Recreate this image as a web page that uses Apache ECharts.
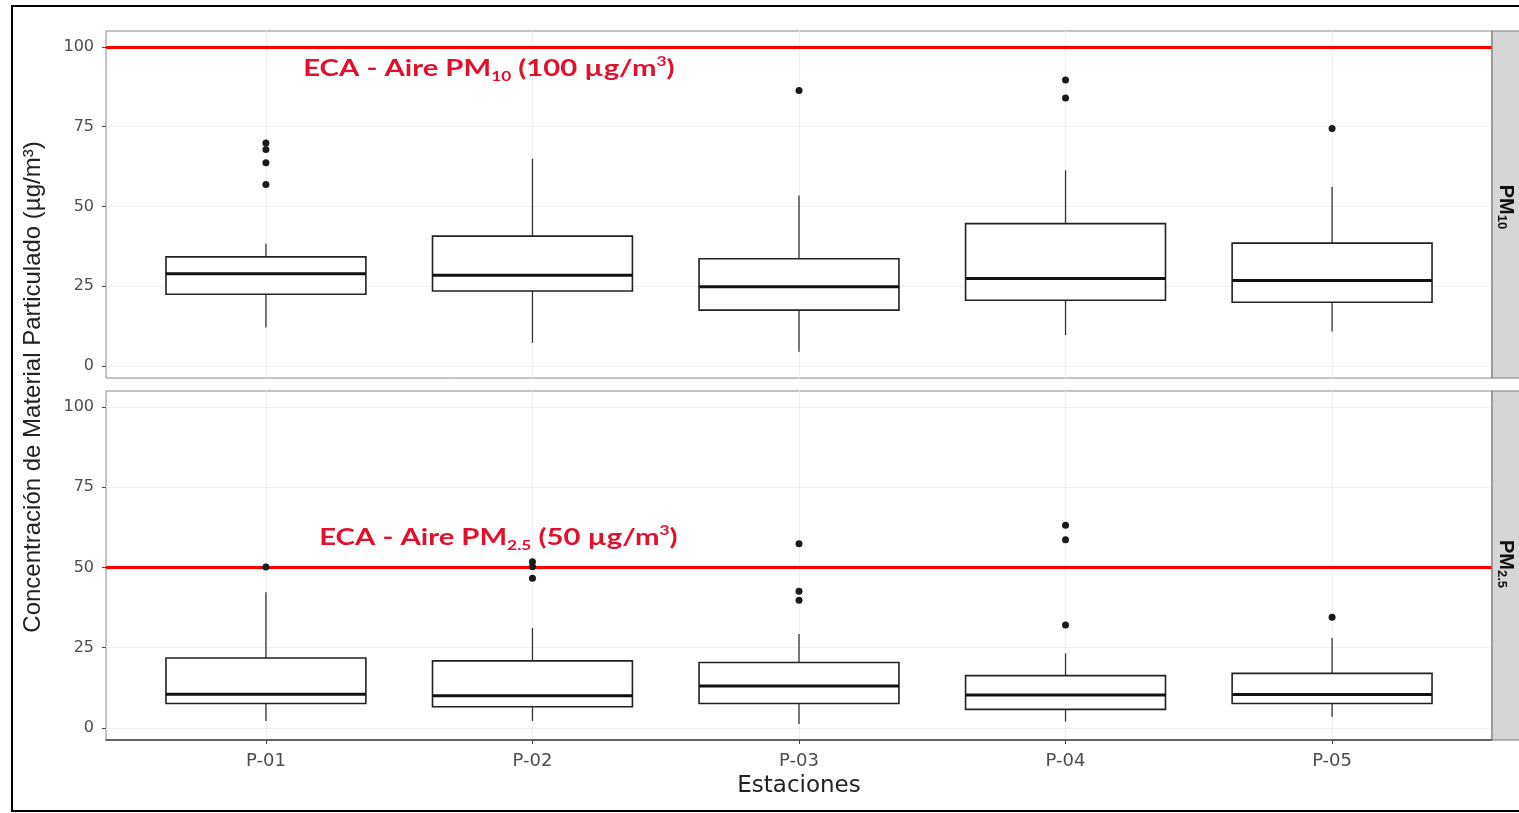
<!DOCTYPE html>
<html><head><meta charset="utf-8">
<script src="https://cdn.jsdelivr.net/npm/echarts@6/dist/echarts.min.js"></script>
<style>html,body{margin:0;padding:0;background:#fff}#c{width:1519px;height:813px}</style>
</head><body><div id="c"></div><script>
// ---- data ----
const categories = ['P-01', 'P-02', 'P-03', 'P-04', 'P-05'];
const yTicks = [0, 25, 50, 75, 100];
const catTicks = [1, 2, 3, 4, 5];

const pm10Low    = [12.1, 7.3, 4.5, 9.7, 10.8];
const pm10Q1     = [22.5, 23.5, 17.5, 20.6, 20.0];
const pm10Median = [28.9, 28.4, 24.8, 27.4, 26.8];
const pm10Q3     = [34.2, 40.7, 33.6, 44.6, 38.5];
const pm10High   = [38.3, 64.9, 53.4, 61.3, 56.1];
const pm10Outliers = [[69.9, 67.8, 63.7, 56.9], [], [86.3], [89.6, 84.0], [74.4]];

const pm25Low    = [2.2, 2.2, 1.2, 2.0, 3.5];
const pm25Q1     = [7.6, 6.6, 7.6, 5.8, 7.6];
const pm25Median = [10.5, 10.0, 13.1, 10.3, 10.4];
const pm25Q3     = [21.8, 20.9, 20.4, 16.3, 17.0];
const pm25High   = [42.3, 31.2, 29.3, 23.2, 28.0];
const pm25Outliers = [[50.1], [51.8, 50.2, 46.6], [57.4, 42.6, 39.8], [63.1, 58.6, 32.1], [34.5]];

const ecaPM10 = 100;
const ecaPM25 = 50;
const labelPM10Pos = [1.14, 93.1];
const labelPM25Pos = [1.2, 59.1];
const labelPM10Text = '{t|ECA - Aire PM}{sub|10}{t| (100 µg/m}{sup|3}{t|)}';
const labelPM25Text = '{t|ECA - Aire PM}{sub|2.5}{t| (50 µg/m}{sup|3}{t|)}';

// ---- helpers ----
function boxData(low, q1, med, q3, high) {
  return categories.map((c, i) => [i + 1, low[i], q1[i], med[i], q3[i], high[i]]);
}
function outlierData(outs) {
  const r = [];
  outs.forEach((arr, i) => arr.forEach(v => r.push([i + 1, v])));
  return r;
}
const BOX_W = 0.75;
function renderBox(params, api) {
  const x = api.value(0);
  const pLow = api.coord([x, api.value(1)]);
  const pQ1 = api.coord([x, api.value(2)]);
  const pMed = api.coord([x, api.value(3)]);
  const pQ3 = api.coord([x, api.value(4)]);
  const pHigh = api.coord([x, api.value(5)]);
  const w = api.size([BOX_W, 0])[0];
  const cx = pMed[0];
  return {
    type: 'group', children: [
      { type: 'line', shape: { x1: cx, y1: pQ3[1], x2: cx, y2: pHigh[1] }, style: { stroke: '#333', lineWidth: 1.3 } },
      { type: 'line', shape: { x1: cx, y1: pQ1[1], x2: cx, y2: pLow[1] }, style: { stroke: '#333', lineWidth: 1.3 } },
      { type: 'rect', shape: { x: cx - w / 2, y: pQ3[1], width: w, height: pQ1[1] - pQ3[1] }, style: { fill: '#fff', stroke: '#222', lineWidth: 1.6 } },
      { type: 'line', shape: { x1: cx - w / 2, y1: pMed[1], x2: cx + w / 2, y2: pMed[1] }, style: { stroke: '#111', lineWidth: 3 } }
    ]
  };
}

const RED = '#e3102c';
const richLabel = {
  t: { fontFamily: 'Lato', fontWeight: 'bold', fontSize: 22, fill: RED, lineHeight: 28 },
  sub: { fontFamily: 'Lato', fontWeight: 'bold', fontSize: 13, fill: RED, lineHeight: 13, verticalAlign: 'bottom' },
  sup: { fontFamily: 'Lato', fontWeight: 'bold', fontSize: 13, fill: RED, lineHeight: 13, verticalAlign: 'top' }
};

const grids = [
  { left: 106, top: 31, width: 1386, height: 347 },
  { left: 106, top: 391, width: 1386, height: 349 }
];
const gridOpts = grids.map(g => Object.assign({ show: true, borderColor: '#8a8a8a', borderWidth: 1, backgroundColor: '#fff' }, g));

const xAxes = grids.map((g, i) => ({
  type: 'value', gridIndex: i, min: 0.4, max: 5.6,
  axisLine: { show: i === 1, onZero: false, lineStyle: { color: '#444', width: 1.5 } },
  axisTick: { show: i === 1, customValues: catTicks, length: 4, lineStyle: { color: '#444' } },
  axisLabel: { show: i === 1, customValues: catTicks, formatter: v => categories[Math.round(v) - 1] || '', color: '#4d4d4d', fontSize: 18, fontFamily: 'DejaVu Sans', margin: 12 },
  splitLine: { show: true, lineStyle: { color: '#eeeeee', width: 1 } },
  name: i === 1 ? 'Estaciones' : '', nameLocation: 'middle', nameGap: 35,
  nameTextStyle: { fontSize: 23, color: '#222', fontFamily: 'DejaVu Sans' }
}));

const yAxes = grids.map((g, i) => ({
  type: 'value', gridIndex: i, min: -3.75, max: 104.95,
  axisLine: { show: false },
  axisTick: { show: true, customValues: yTicks, length: 4, lineStyle: { color: '#444' } },
  axisLabel: { customValues: yTicks, color: '#4d4d4d', fontSize: 16, fontFamily: 'DejaVu Sans', margin: 12 },
  splitLine: { show: true, lineStyle: { color: '#eeeeee', width: 1 } }
}));

function boxSeries(gi, data, eca) {
  return {
    type: 'custom', xAxisIndex: gi, yAxisIndex: gi, renderItem: renderBox, data: data, z: 2,
    encode: { x: 0, y: [1, 2, 3, 4, 5] },
    markLine: {
      silent: true, symbol: 'none', z: 3,
      lineStyle: { color: '#ff0000', width: 3, type: 'solid' },
      label: { show: false },
      data: [{ yAxis: eca }]
    }
  };
}
function outlierSeries(gi, data) {
  return {
    type: 'scatter', xAxisIndex: gi, yAxisIndex: gi, data: data, symbolSize: 7, z: 5,
    itemStyle: { color: '#1a1a1a', opacity: 1 }
  };
}

const chart = echarts.init(document.getElementById('c'), null, { renderer: 'canvas' });
chart.setOption({
  animation: false,
  backgroundColor: '#fff',
  grid: gridOpts,
  xAxis: xAxes,
  yAxis: yAxes,
  series: [
    boxSeries(0, boxData(pm10Low, pm10Q1, pm10Median, pm10Q3, pm10High), ecaPM10),
    outlierSeries(0, outlierData(pm10Outliers)),
    boxSeries(1, boxData(pm25Low, pm25Q1, pm25Median, pm25Q3, pm25High), ecaPM25),
    outlierSeries(1, outlierData(pm25Outliers))
  ]
});

const p10 = chart.convertToPixel({ xAxisIndex: 0, yAxisIndex: 0 }, labelPM10Pos);
const p25 = chart.convertToPixel({ xAxisIndex: 1, yAxisIndex: 1 }, labelPM25Pos);
const stripRich = {
  a: { fontFamily: 'Liberation Sans', fontWeight: 'bold', fontSize: 20, fill: '#111', lineHeight: 22 },
  b: { fontFamily: 'Liberation Sans', fontWeight: 'bold', fontSize: 13, fill: '#111', lineHeight: 13, verticalAlign: 'bottom' }
};

chart.setOption({
  graphic: [
    { type: 'rect', shape: { x: 12, y: 6, width: 1540, height: 805 }, style: { fill: 'none', stroke: '#000', lineWidth: 2 }, z: 100 },
    { type: 'rect', shape: { x: 1492, y: 31, width: 40, height: 347 }, style: { fill: '#d6d6d6', stroke: '#7a7a7a', lineWidth: 1.2 }, z: 10 },
    { type: 'rect', shape: { x: 1492, y: 391, width: 40, height: 349 }, style: { fill: '#d6d6d6', stroke: '#7a7a7a', lineWidth: 1.2 }, z: 10 },
    { type: 'text', x: 1506, y: 207, rotation: -Math.PI / 2, z: 11,
      style: { text: '{a|PM}{b|10}', align: 'center', verticalAlign: 'middle', rich: stripRich } },
    { type: 'text', x: 1506, y: 564, rotation: -Math.PI / 2, z: 11,
      style: { text: '{a|PM}{b|2.5}', align: 'center', verticalAlign: 'middle', rich: stripRich } },
    { type: 'text', x: 33, y: 387, rotation: Math.PI / 2, z: 11,
      style: { text: 'Concentración de Material Particulado (µg/m³)', align: 'center', verticalAlign: 'middle',
        font: '24px "Liberation Sans"', fill: '#222' } },
    { type: 'text', x: p10[0], y: p10[1], scaleX: 1.33, z: 20,
      style: { text: labelPM10Text, align: 'left', verticalAlign: 'middle', rich: richLabel } },
    { type: 'text', x: p25[0], y: p25[1], scaleX: 1.33, z: 20,
      style: { text: labelPM25Text, align: 'left', verticalAlign: 'middle', rich: richLabel } }
  ]
});
</script></body></html>
